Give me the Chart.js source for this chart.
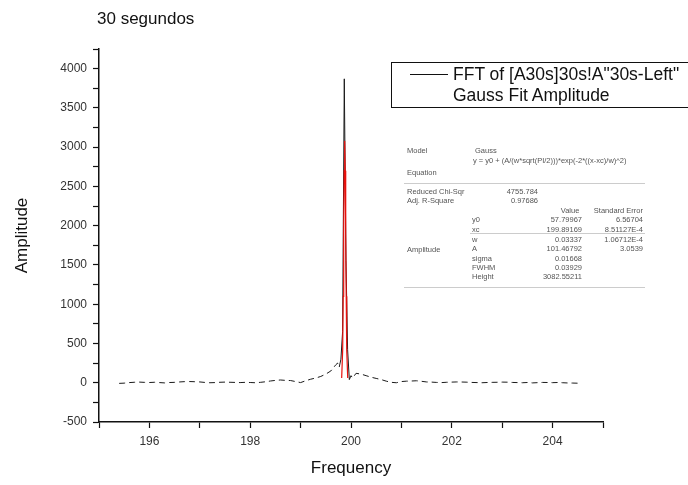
<!DOCTYPE html>
<html>
<head>
<meta charset="utf-8">
<script src="https://cdn.jsdelivr.net/npm/chart.js@4.4.0/dist/chart.umd.min.js"></script>
<style>
  body { margin: 0; background: #fff; }
  #wrap { position: relative; width: 688px; height: 485px; overflow: hidden; font-family: "Liberation Sans", Arial, sans-serif; }
  #title { position: absolute; left: 97px; top: 9px; font-size: 17px; color: #111; }
  #legend { position: absolute; left: 391px; top: 62px; width: 320px; height: 44px; border: 1px solid #111; font-size: 17.5px; color: #111; }
  #legend .row { position: absolute; left: 61px; white-space: nowrap; }
  #legend .swatch { position: absolute; left: 18px; top: 11px; width: 38px; border-top: 1.5px solid #111; }
  #fit { position: absolute; left: 0; top: 0; width: 688px; height: 485px; font-size: 7.5px; color: #555; pointer-events: none; }
  #fit span { position: absolute; white-space: nowrap; line-height: 9px; }
  #fit i { position: absolute; height: 0; border-top: 1px solid #ccc; }
</style>
</head>
<body>
<div id="wrap">
  <canvas id="fftChart" width="688" height="485"></canvas>
  <div id="title">30 segundos</div>
  <div id="legend">
    <div class="swatch"></div>
    <div class="row" style="top:1px">FFT of [A30s]30s!A"30s-Left"</div>
    <div class="row" style="top:22px">Gauss Fit Amplitude</div>
  </div>
  <div id="fit"></div>
</div>
<script>
// FFT spectrum (30 s window)
const fftFreq = [195.40, 195.50, 195.60, 195.70, 195.80, 195.90, 196.00, 196.10, 196.20, 196.30,
  196.40, 196.50, 196.60, 196.70, 196.80, 196.90, 197.00, 197.10, 197.20, 197.30,
  197.40, 197.50, 197.60, 197.70, 197.80, 197.90, 198.00, 198.10, 198.20, 198.30,
  198.40, 198.50, 198.60, 198.70, 198.80, 198.90, 199.00, 199.10, 199.20, 199.30,
  199.40, 199.50, 199.60, 199.70, 199.733, 199.767, 199.800, 199.833, 199.867, 199.900,
  199.933, 199.967, 200.000, 200.033, 200.10, 200.20, 200.30, 200.40, 200.50, 200.60,
  200.70, 200.80, 200.90, 201.00, 201.10, 201.20, 201.30, 201.40, 201.50, 201.60,
  201.70, 201.80, 201.90, 202.00, 202.10, 202.20, 202.30, 202.40, 202.50, 202.60,
  202.70, 202.80, 202.90, 203.00, 203.10, 203.20, 203.30, 203.40, 203.50, 203.60,
  203.70, 203.80, 203.90, 204.00, 204.10, 204.20, 204.30, 204.40, 204.50, 204.55];
const fftAmp = [-8, -5, 2, 6, 8, 5, 3, 6, 2, -2,
  3, 5, 10, 14, 15, 13, 10, 4, 0, 2,
  6, 8, 6, 4, 2, 5, 3, 0, 5, 12,
  22, 30, 35, 30, 28, 15, 2, 25, 45, 60,
  80, 110, 150, 230, 250, 200, 300, 650, 3870, 1560,
  420, 40, 90, 60, 120, 110, 90, 70, 55, 40,
  20, 5, 0, 15, 20, 22, 25, 18, 10, 8,
  4, 2, 6, 8, 10, 9, 7, 4, 2, 0,
  3, 5, 6, 8, 7, 4, 2, 0, 3, -2,
  1, 4, 3, 1, 3, 0, -3, -4, -6, -5];

// Gauss fit curve around the peak
const fitFreq = [199.815, 199.835, 199.845, 199.855, 199.865, 199.875, 199.885, 199.895, 199.905, 199.915, 199.935];
const fitAmp = [60, 420, 1100, 1900, 2700, 3080, 2700, 1900, 1100, 420, 60];

const xRange = [195, 205];
const yRange = [-500, 4250];
const xLabels = [196, 198, 200, 202, 204];
const yLabels = [-500, 0, 500, 1000, 1500, 2000, 2500, 3000, 3500, 4000];

// fit results table (Origin report)
const fitTable = [
  ['Model', 407, 150, 'l'], ['Gauss', 475, 150, 'l'],
  ['y = y0 + (A/(w*sqrt(PI/2)))*exp(-2*((x-xc)/w)^2)', 473, 160, 'l'],
  ['Equation', 407, 172, 'l'],
  ['Reduced Chi-Sqr', 407, 191, 'l'], ['4755.784', 538, 191, 'r'],
  ['Adj. R-Square', 407, 200, 'l'], ['0.97686', 538, 200, 'r'],
  ['Value', 570, 210, 'c'], ['Standard Error', 643, 210, 'r'],
  ['y0', 472, 219, 'l'], ['57.79967', 582, 219, 'r'], ['6.56704', 643, 219, 'r'],
  ['xc', 472, 229, 'l'], ['199.89169', 582, 229, 'r'], ['8.51127E-4', 643, 229, 'r'],
  ['w', 472, 239, 'l'], ['0.03337', 582, 239, 'r'], ['1.06712E-4', 643, 239, 'r'],
  ['Amplitude', 407, 249, 'l'], ['A', 472, 248, 'l'], ['101.46792', 582, 248, 'r'], ['3.0539', 643, 248, 'r'],
  ['sigma', 472, 258, 'l'], ['0.01668', 582, 258, 'r'],
  ['FWHM', 472, 267, 'l'], ['0.03929', 582, 267, 'r'],
  ['Height', 472, 276, 'l'], ['3082.55211', 582, 276, 'r']
];
const fitRules = [[404, 645, 183], [470, 645, 233], [404, 645, 287]];

const fitBox = document.getElementById('fit');
fitTable.forEach(([txt, x, y, a]) => {
  const s = document.createElement('span');
  s.textContent = txt;
  s.style.top = (y - 4.5) + 'px';
  if (a === 'l') s.style.left = x + 'px';
  else if (a === 'r') s.style.right = (688 - x) + 'px';
  else { s.style.left = x + 'px'; s.style.transform = 'translateX(-50%)'; }
  fitBox.appendChild(s);
});
fitRules.forEach(([x0, x1, y]) => {
  const l = document.createElement('i');
  l.style.left = x0 + 'px';
  l.style.width = (x1 - x0) + 'px';
  l.style.top = y + 'px';
  fitBox.appendChild(l);
});

const tickFont = { family: '"Liberation Sans", Arial, sans-serif', size: 12 };
const titleFont = { family: '"Liberation Sans", Arial, sans-serif', size: 17 };

new Chart(document.getElementById('fftChart'), {
  type: 'line',
  data: {
    datasets: [
      {
        label: 'FFT of [A30s]30s!A"30s-Left"',
        data: fftFreq.map((f, i) => ({ x: f, y: fftAmp[i] })),
        borderColor: '#1a1a1a',
        borderWidth: 1,
        pointRadius: 0,
        order: 1,
        segment: {
          borderDash: ctx => (Math.abs(ctx.p0.parsed.y) < 300 && Math.abs(ctx.p1.parsed.y) < 300) ? [6, 4] : []
        }
      },
      {
        label: 'Gauss Fit Amplitude',
        data: fitFreq.map((f, i) => ({ x: f, y: fitAmp[i] })),
        borderColor: '#e8100c',
        borderWidth: 1.2,
        pointRadius: 0,
        order: 0
      }
    ]
  },
  options: {
    responsive: false,
    animation: false,
    devicePixelRatio: 1,
    layout: { padding: { left: 0, top: 49, right: 85, bottom: 0 } },
    plugins: { legend: { display: false }, tooltip: { enabled: false } },
    scales: {
      x: {
        type: 'linear',
        min: xRange[0],
        max: xRange[1],
        afterFit: s => { s.height = 63; },
        border: { display: true, color: '#111', width: 1.5 },
        grid: { drawOnChartArea: false, drawTicks: true, tickLength: 6, tickColor: '#111', tickWidth: 1.2 },
        ticks: {
          stepSize: 1,
          padding: 6,
          color: '#333',
          font: tickFont,
          maxRotation: 0,
          autoSkip: false,
          callback: v => xLabels.includes(v) ? String(v) : ''
        },
        title: { display: true, text: 'Frequency', color: '#111', font: titleFont, padding: { top: 0, bottom: 6 } }
      },
      y: {
        min: yRange[0],
        max: yRange[1],
        afterFit: s => { s.width = 99; },
        border: { display: true, color: '#111', width: 1.5 },
        grid: { drawOnChartArea: false, drawTicks: true, tickLength: 6, tickColor: '#111', tickWidth: 1.2 },
        ticks: {
          stepSize: 250,
          padding: 6,
          color: '#333',
          font: tickFont,
          autoSkip: false,
          callback: v => yLabels.includes(v) ? String(v) : ''
        },
        title: { display: true, text: 'Amplitude', color: '#111', font: titleFont, padding: { top: 12, bottom: 0 } }
      }
    }
  }
});
</script>
</body>
</html>
